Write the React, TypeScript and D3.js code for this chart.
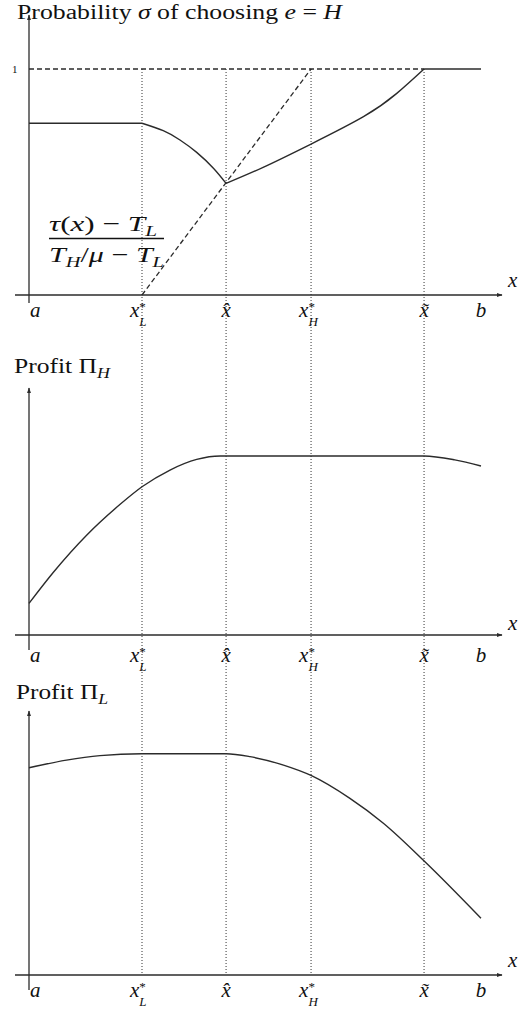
import * as d3 from "d3";

// x positions of the named points, a = 0 and b = 10
const tickNames = ["a", "xL", "xHat", "xH", "xTilde", "b"];
const tickValues = [0, 2.5, 4.36, 6.24, 8.74, 10];
const guideValues = [2.5, 4.36, 6.24, 8.74];

// sigma, in pieces: it has kinks at x_L*, x-hat and x-tilde
const sigmaFlatX = [0, 2.5];
const sigmaFlatY = [0.76, 0.76];
const sigmaFallX = [2.5, 2.97, 3.34, 3.71, 4.08, 4.36];
const sigmaFallY = [0.76, 0.727, 0.686, 0.631, 0.561, 0.494];
const sigmaRiseX = [4.36, 5.18, 6.24, 7.4, 8.13, 8.74];
const sigmaRiseY = [0.494, 0.565, 0.668, 0.789, 0.891, 1];
const sigmaTopX = [8.74, 10];
const sigmaTopY = [1, 1];

// the dashed guides of the top panel
const diagX = [2.5, 6.24];
const diagY = [0, 1];
const oneX = [0, 8.74];
const oneY = [1, 1];

// profits (arbitrary units, 0 at the x axis)
const piHX = [0, 0.54, 1.28, 2.01, 2.5, 3.12, 3.71, 4.23, 4.36, 8.74, 9.42, 10];
const piHY = [0.128, 0.254, 0.405, 0.528, 0.6, 0.668, 0.711, 0.725, 0.725, 0.725, 0.709, 0.684];
const piLX = [0, 0.83, 1.57, 2.5, 4.36, 4.89, 5.63, 6.25, 7.1, 7.84, 8.76, 10];
const piLY = [0.785, 0.814, 0.831, 0.838, 0.838, 0.827, 0.795, 0.755, 0.669, 0.575, 0.429, 0.215];

const zip = (xs: number[], ys: number[]) => xs.map((v, i) => [v, ys[i]] as [number, number]);

const W = 524;
const H = 1011;
const FONT = "'Liberation Serif', 'DejaVu Serif', serif";
const INK = "#2b2b2b";

const x = d3.scaleLinear().domain([0, 10]).range([29, 481]);

const panels = [
  { y: d3.scaleLinear().domain([0, 1]).range([295, 69]), top: 15, below: 8, xLab: 287, tickBase: 317 },
  { y: d3.scaleLinear().domain([0, 1]).range([635, 388]), top: 388, below: 15, xLab: 630, tickBase: 662 },
  { y: d3.scaleLinear().domain([0, 1]).range([975, 711]), top: 711, below: 15, xLab: 967, tickBase: 997 },
];

function TickLabel({ name, cx, base }: { name: string; cx: number; base: number }) {
  if (name === "a")
    return <text x={cx + 1} y={base} fontStyle="italic">a</text>;
  if (name === "b")
    return <text x={cx} y={base} textAnchor="middle" fontStyle="italic">b</text>;
  if (name === "xL" || name === "xH")
    return (
      <text x={cx - 12} y={base}>
        <tspan fontStyle="italic">x</tspan>
        <tspan fontSize={13} dy={-6}>*</tspan>
        <tspan fontSize={13} fontStyle="italic" dx={-6.5} dy={15}>{name === "xL" ? "L" : "H"}</tspan>
      </text>
    );
  // x with a hat or tilde, as one text with a combining accent
  const accent = name === "xHat" ? "\u0302" : "\u0303";
  return (
    <text x={cx} y={base} textAnchor="middle" fontStyle="italic">{"x" + accent}</text>
  );
}

export default function App() {
  const p1 = panels[0];
  const p2 = panels[1];
  const p3 = panels[2];

  const path = (y: d3.ScaleLinear<number, number>, pts: [number, number][], curve: d3.CurveFactory = d3.curveMonotoneX) =>
    d3.line<[number, number]>().x((d) => x(d[0])).y((d) => y(d[1])).curve(curve)(pts) || "";

  const sigmaPieces = [
    zip(sigmaFlatX, sigmaFlatY),
    zip(sigmaFallX, sigmaFallY),
    zip(sigmaRiseX, sigmaRiseY),
    zip(sigmaTopX, sigmaTopY),
  ];

  return (
    <svg
      width={W}
      height={H}
      viewBox={`0 0 ${W} ${H}`}
      style={{ position: "absolute", left: 0, top: 0, background: "#fff" }}
      fontFamily={FONT}
      fontSize={21}
      fill="#111"
    >
      <defs>
        <marker id="arr" viewBox="0 0 10 10" refX={9} refY={5} markerWidth={6} markerHeight={6}
          markerUnits="userSpaceOnUse" orient="auto">
          <path d="M0,1.5 L10,5 L0,8.5 z" fill={INK} />
        </marker>
      </defs>

      {/* dotted guides through all three panels */}
      <g stroke="#333" strokeWidth={1} strokeDasharray="1 2">
        {guideValues.map((v) => (
          <line key={v} x1={x(v)} x2={x(v)} y1={p1.y(1)} y2={p3.y(0)} />
        ))}
      </g>

      {/* axes */}
      {panels.map((p, i) => (
        <g key={i} stroke={INK} strokeWidth={1.3}>
          <line x1={15} x2={502} y1={p.y(0)} y2={p.y(0)} markerEnd="url(#arr)" />
          <line x1={x(0)} x2={x(0)} y1={p.y(0) + p.below} y2={p.top} markerEnd="url(#arr)" />
        </g>
      ))}

      {/* top panel */}
      <g fill="none" stroke={INK} strokeWidth={1.3} strokeDasharray="5 3">
        <path d={path(p1.y, zip(oneX, oneY), d3.curveLinear)} />
        <path d={path(p1.y, zip(diagX, diagY), d3.curveLinear)} />
      </g>
      <g fill="none" stroke={INK} strokeWidth={1.4}>
        {sigmaPieces.map((pts, i) => (
          <path key={i} d={path(p1.y, pts, d3.curveNatural)} />
        ))}
      </g>
      <text x={12} y={p1.y(1) + 4} fontSize={11}>1</text>
      <text x={17} y={19} fontSize={20} textLength={325} lengthAdjust="spacingAndGlyphs">
        Probability <tspan fontStyle="italic">σ</tspan> of choosing <tspan fontStyle="italic">e</tspan> = <tspan fontStyle="italic">H</tspan>
      </text>
      <g fontSize={22}>
        <text x={49} y={231} textLength={108} lengthAdjust="spacingAndGlyphs">
          <tspan fontStyle="italic">τ</tspan>(<tspan fontStyle="italic">x</tspan>) − <tspan fontStyle="italic">T</tspan>
          <tspan fontSize={15} fontStyle="italic" dy={5}>L</tspan>
        </text>
        <line x1={49} x2={164} y1={238.5} y2={238.5} stroke="#111" strokeWidth={1.6} />
        <text x={49} y={262} textLength={115} lengthAdjust="spacingAndGlyphs">
          <tspan fontStyle="italic">T</tspan>
          <tspan fontSize={15} fontStyle="italic" dy={5}>H</tspan>
          <tspan dy={-5}>/</tspan><tspan fontStyle="italic">μ</tspan> − <tspan fontStyle="italic">T</tspan>
          <tspan fontSize={15} fontStyle="italic" dy={5}>L</tspan>
        </text>
      </g>

      {/* middle panel */}
      <path d={path(p2.y, zip(piHX, piHY))} fill="none" stroke={INK} strokeWidth={1.4} />
      <text x={14} y={373} fontSize={20} textLength={96} lengthAdjust="spacingAndGlyphs">
        Profit Π<tspan fontSize={14} fontStyle="italic" dy={5}>H</tspan>
      </text>

      {/* bottom panel */}
      <path d={path(p3.y, zip(piLX, piLY))} fill="none" stroke={INK} strokeWidth={1.4} />
      <text x={16} y={699} fontSize={20} textLength={92} lengthAdjust="spacingAndGlyphs">
        Profit Π<tspan fontSize={14} fontStyle="italic" dy={5}>L</tspan>
      </text>

      {/* x labels and named points */}
      {panels.map((p, i) => (
        <g key={i}>
          <text x={508} y={p.xLab} fontStyle="italic">x</text>
          {tickNames.map((n, j) => (
            <TickLabel key={n} name={n} cx={x(tickValues[j])} base={p.tickBase} />
          ))}
        </g>
      ))}
    </svg>
  );
}
